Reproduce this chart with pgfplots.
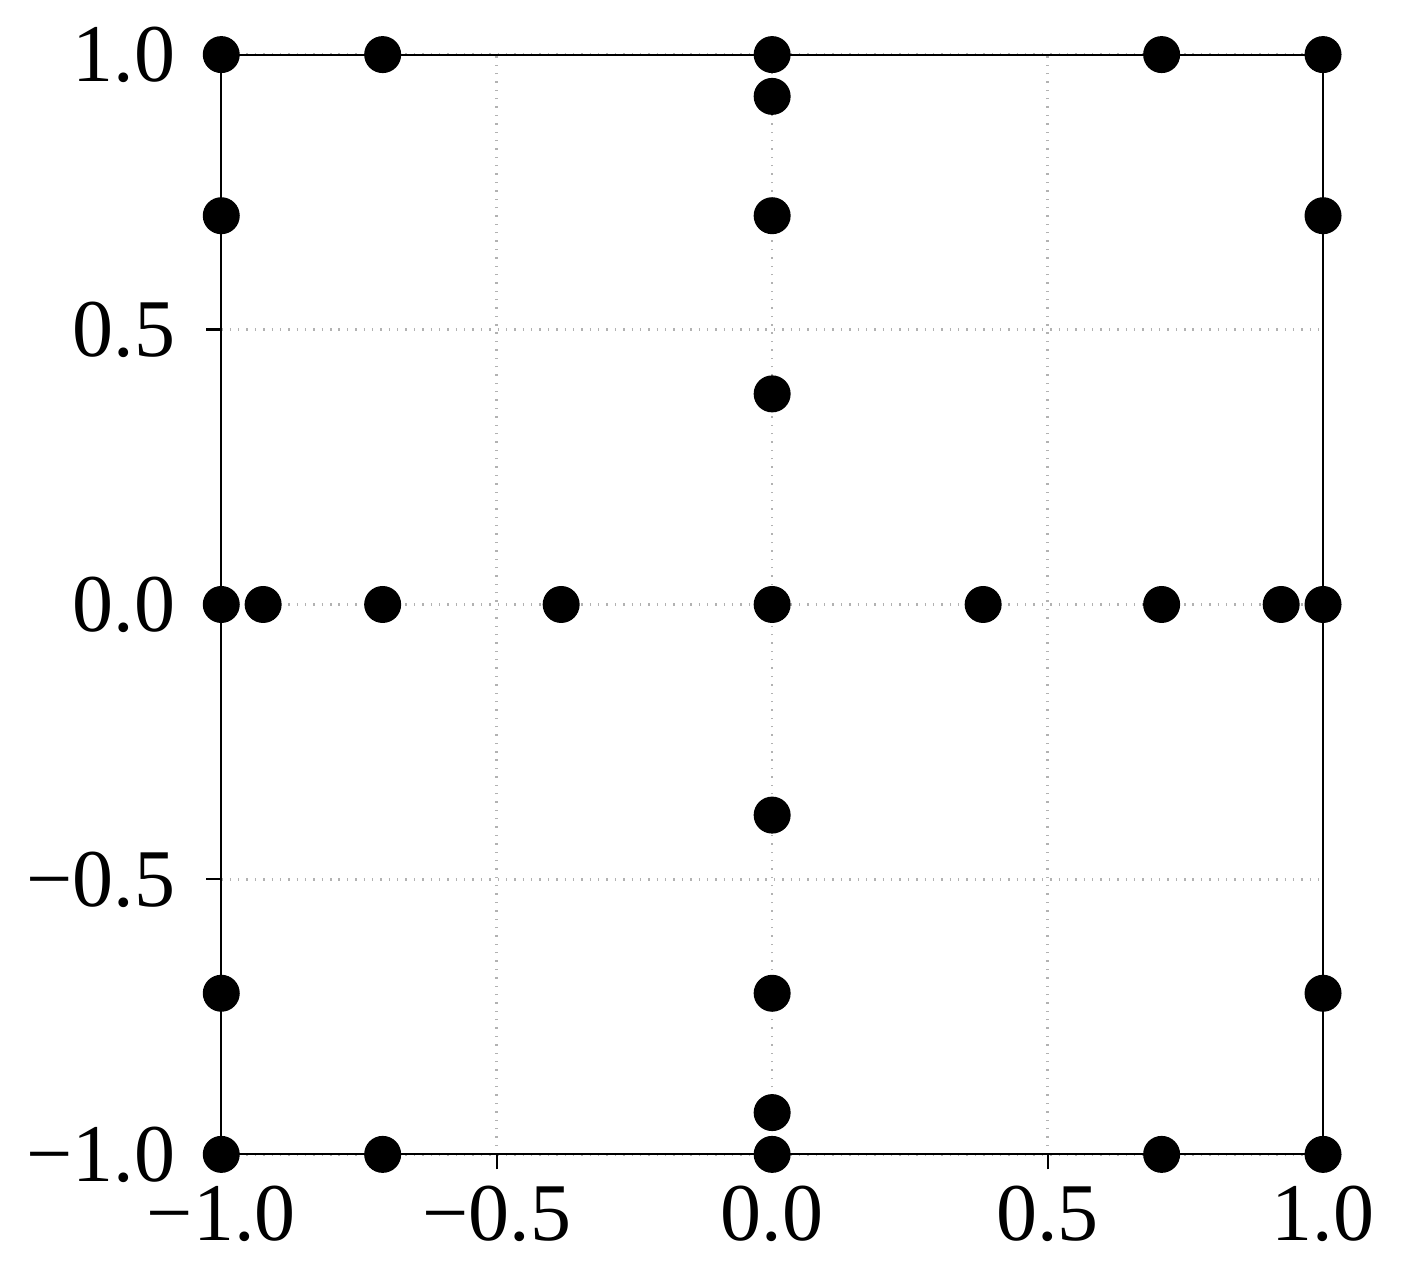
\documentclass[border=0pt]{standalone}
\usepackage{fontspec}
\setmainfont{Liberation Serif}
\usepackage{pgfplots}
\pgfplotsset{compat=1.18}
\begin{document}
\fontsize{23}{27}\selectfont
\begin{tikzpicture}
\begin{axis}[
    width=11.1cm, height=11.08cm,
    scale only axis,
    xmin=-1, xmax=1, ymin=-1, ymax=1,
    axis line style={line width=0.6pt},
    xtick={-1,-0.5,0,0.5,1},
    ytick={-1,-0.5,0,0.5,1},
    xticklabels={−1.0,−0.5,0.0,0.5,1.0},
    yticklabels={−1.0,−0.5,0.0,0.5,1.0},
    xtick pos=bottom, ytick pos=left,
    tick align=outside,
    major tick length=0.15cm,
    tick style={line width=0.6pt, black},
    ticklabel style={font=\fontsize{23.5}{27}\selectfont},
    xticklabel style={yshift=3pt},
    yticklabel style={xshift=-1pt},
    grid=major,
    major grid style={dotted, gray!60, line width=0.7pt},
    clip=false,
]
\addplot[only marks, mark=*, mark size=5.1pt, black] coordinates {
    (-1,1) (-0.707,1) (0,1) (0.707,1) (1,1)
    (0,0.924) (0,0.707) (0,0.383) (0,-0.383) (0,-0.707) (0,-0.924)
    (-1,0.707) (-1,-0.707) (1,0.707) (1,-0.707)
    (-1,0) (-0.924,0) (-0.707,0) (-0.383,0) (0,0) (0.383,0) (0.707,0) (0.924,0) (1,0)
    (-1,-1) (-0.707,-1) (0,-1) (0.707,-1) (1,-1)
};
\end{axis}
\end{tikzpicture}
\end{document}
